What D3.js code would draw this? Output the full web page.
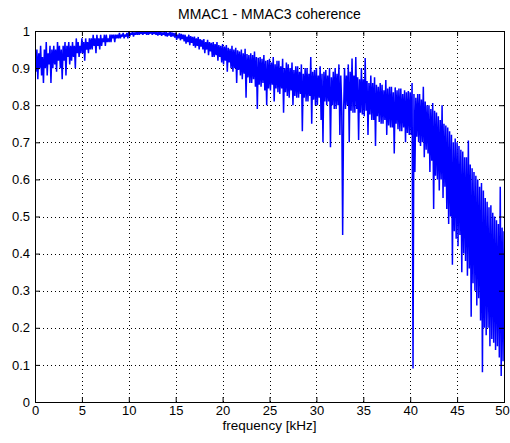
<!DOCTYPE html>
<html>
<head>
<meta charset="utf-8">
<script src="https://cdn.jsdelivr.net/npm/d3@7"></script>
<style>
  body { margin: 0; background: #fff; }
  svg { display: block; }
  text { font-family: "Liberation Sans", Arial, sans-serif; fill: #000; }
</style>
</head>
<body>
<script>
// chart text
const title = "MMAC1 - MMAC3 coherence";
const xLabel = "frequency [kHz]";

// ticks
const xTicks = [0, 5, 10, 15, 20, 25, 30, 35, 40, 45, 50];
const yTicks = [0, 0.1, 0.2, 0.3, 0.4, 0.5, 0.6, 0.7, 0.8, 0.9, 1];
const yTickLabels = ["0", "0.1", "0.2", "0.3", "0.4", "0.5", "0.6", "0.7", "0.8", "0.9", "1"];

// coherence, one sample every 0.1 kHz from 0 to 50 kHz
const freqStep = 0.1;
const coherence = [
  // 0 - 4.9
  .93,.89,.95,.87,.94,.90,.96,.88,.93,.86,
  .95,.90,.97,.88,.94,.91,.96,.86,.95,.90,
  .96,.91,.95,.89,.97,.92,.96,.90,.95,.87,
  .96,.92,.97,.88,.96,.93,.97,.91,.96,.92,
  .97,.93,.96,.90,.98,.94,.97,.93,.96,.94,
  // 5 - 9.9
  .98,.94,.97,.92,.98,.95,.97,.94,.98,.95,
  .98,.95,.99,.96,.98,.94,.99,.96,.98,.95,
  .99,.96,.98,.97,.99,.96,.99,.97,.98,.97,
  .99,.97,.99,.98,.99,.97,.99,.98,.99,.98,
  .995,.98,.99,.985,.995,.98,.99,.985,.995,.98,
  // 10 - 14.9
  .997,.985,.995,.99,.998,.985,.996,.99,.998,.99,
  .999,.99,.998,.992,1.0,.99,.998,.993,.999,.99,
  .999,.99,.998,.993,1.0,.99,.998,.992,.999,.99,
  .998,.988,.997,.99,.999,.987,.996,.99,.998,.986,
  .997,.985,.995,.988,.998,.984,.996,.986,.995,.982,
  // 15 - 19.9
  .995,.976,.99,.98,.994,.975,.992,.978,.99,.972,
  .99,.966,.985,.97,.99,.962,.986,.968,.984,.96,
  .985,.955,.98,.96,.984,.95,.978,.958,.976,.95,
  .978,.94,.97,.95,.976,.935,.97,.945,.968,.93,
  .97,.93,.965,.935,.97,.92,.962,.93,.96,.915,
  // 20 - 24.9
  .965,.91,.958,.92,.962,.89,.955,.915,.952,.90,
  .96,.89,.95,.90,.955,.86,.948,.895,.945,.88,
  .95,.87,.94,.885,.952,.82,.938,.875,.935,.86,
  .94,.86,.935,.87,.945,.85,.93,.79,.928,.855,
  .93,.85,.925,.86,.935,.84,.92,.80,.922,.845,
  // 25 - 29.9
  .925,.84,.915,.855,.93,.81,.91,.845,.92,.835,
  .92,.83,.905,.845,.925,.78,.90,.835,.915,.825,
  .91,.82,.90,.84,.915,.80,.895,.825,.905,.82,
  .905,.82,.89,.83,.91,.73,.885,.82,.90,.81,
  .90,.81,.885,.825,.93,.75,.89,.815,.895,.80,
  // 30 - 34.9
  .90,.80,.88,.82,.905,.76,.885,.70,.89,.81,
  .895,.80,.88,.81,.90,.687,.875,.80,.89,.79,
  .90,.79,.885,.80,.91,.72,.88,.795,.45,.78,
  .90,.79,.88,.80,.91,.70,.89,.785,.926,.78,
  .88,.78,.93,.79,.875,.706,.87,.78,.90,.775,
  // 35 - 39.9
  .87,.77,.927,.785,.865,.72,.86,.775,.88,.76,
  .86,.76,.875,.69,.855,.77,.85,.755,.86,.75,
  .855,.75,.84,.76,.868,.72,.845,.745,.85,.74,
  .85,.74,.835,.67,.848,.75,.84,.735,.845,.73,
  .845,.73,.83,.74,.84,.70,.835,.725,.838,.72,
  // 40 - 44.9
  .835,.72,.86,.09,.83,.62,.82,.715,.83,.70,
  .83,.69,.815,.70,.85,.66,.81,.68,.80,.67,
  .80,.62,.79,.65,.806,.52,.785,.61,.78,.60,
  .77,.57,.76,.60,.80,.55,.75,.58,.745,.52,
  .74,.48,.73,.50,.72,.37,.70,.46,.71,.44,
  // 45 - 50
  .70,.42,.69,.45,.68,.35,.675,.40,.66,.38,
  .66,.34,.705,.36,.64,.23,.63,.32,.62,.30,
  .61,.26,.60,.28,.58,.22,.59,.08,.57,.20,
  .55,.18,.54,.20,.525,.15,.53,.17,.51,.16,
  .50,.14,.49,.15,.48,.12,.58,.07,.47,.11,
  .46
];

const width = 510, height = 443;
const margin = { top: 31, right: 6, bottom: 41, left: 35 };
const tickLen = 5;

const data = coherence.map((v, i) => ({ f: i * freqStep, c: v }));

const x = d3.scaleLinear()
    .domain([0, 50])
    .range([margin.left, width - margin.right]);

const y = d3.scaleLinear()
    .domain([0, 1])
    .range([height - margin.bottom, margin.top]);

const svg = d3.select("body").append("svg")
    .attr("width", width)
    .attr("height", height);

// dotted grid
const grid = svg.append("g")
    .attr("stroke", "#000")
    .attr("stroke-width", 1)
    .attr("stroke-dasharray", "1,3")
    .attr("shape-rendering", "crispEdges");

grid.selectAll(".vgrid")
  .data(xTicks.slice(1, -1))
  .join("line")
    .attr("x1", d => Math.round(x(d)) + 0.5)
    .attr("x2", d => Math.round(x(d)) + 0.5)
    .attr("y1", y(0))
    .attr("y2", y(1));

grid.selectAll(".hgrid")
  .data(yTicks.slice(1, -1))
  .join("line")
    .attr("x1", x(0))
    .attr("x2", x(50))
    .attr("y1", d => Math.round(y(d)) + 0.5)
    .attr("y2", d => Math.round(y(d)) + 0.5);

// coherence line
svg.append("defs").append("clipPath")
    .attr("id", "plotClip")
  .append("rect")
    .attr("x", x(0))
    .attr("y", y(1))
    .attr("width", x(50) - x(0))
    .attr("height", y(0) - y(1));

const line = d3.line()
    .x(d => x(d.f))
    .y(d => y(d.c));

svg.append("path")
    .datum(data)
    .attr("clip-path", "url(#plotClip)")
    .attr("fill", "none")
    .attr("stroke", "#0000ff")
    .attr("stroke-width", 1.5)
    .attr("stroke-linejoin", "bevel")
    .attr("d", line);

// axes (ticks inward, mirrored on top/right)
const xAxisG = svg.append("g")
    .attr("transform", `translate(0,${y(0)})`)
    .call(d3.axisBottom(x).tickValues(xTicks).tickSize(-tickLen).tickPadding(4).tickFormat(d3.format("d")));

svg.append("g")
    .attr("transform", `translate(${x(0)},0)`)
    .call(d3.axisLeft(y).tickValues(yTicks).tickSize(-tickLen).tickPadding(5)
      .tickFormat((d, i) => yTickLabels[i]));

svg.append("g")
    .attr("transform", `translate(0,${y(1)})`)
    .call(d3.axisTop(x).tickValues(xTicks).tickSize(-tickLen).tickFormat(""));

svg.append("g")
    .attr("transform", `translate(${x(50)},0)`)
    .call(d3.axisRight(y).tickValues(yTicks).tickSize(-tickLen).tickFormat(""));

svg.selectAll(".domain").remove();
svg.selectAll(".tick line").attr("stroke", "#000");
svg.selectAll(".tick text")
    .attr("font-size", 13)
    .style("font-family", "'Liberation Sans', Arial, sans-serif");

// keep the last x label inside the window
xAxisG.selectAll(".tick text").filter(d => d === 50).attr("dx", -2);

// box
svg.append("rect")
    .attr("x", x(0) + 0.5)
    .attr("y", y(1) + 0.5)
    .attr("width", x(50) - x(0))
    .attr("height", y(0) - y(1))
    .attr("fill", "none")
    .attr("stroke", "#000")
    .attr("shape-rendering", "crispEdges");

// title and label
svg.append("text")
    .attr("x", (x(0) + x(50)) / 2)
    .attr("y", 19)
    .attr("text-anchor", "middle")
    .attr("font-size", 14)
    .text(title);

svg.append("text")
    .attr("x", (x(0) + x(50)) / 2)
    .attr("y", 430)
    .attr("text-anchor", "middle")
    .attr("font-size", 13.5)
    .text(xLabel);
</script>
</body>
</html>
